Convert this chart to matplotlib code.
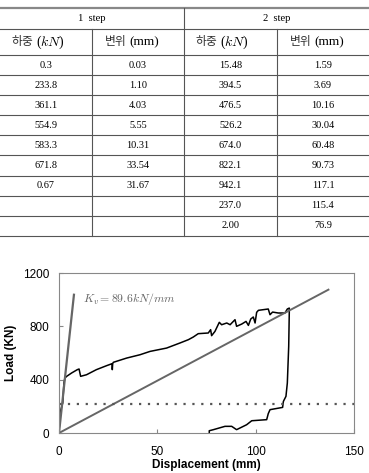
import numpy as np
import matplotlib.pyplot as plt
from matplotlib.lines import Line2D

plt.rcParams['mathtext.fontset'] = 'cm'

# table data
step_titles = ["1  step", "2  step"]
col_names = ["하중", "변위", "하중", "변위"]
col_units = ["($kN$)", "(mm)", "($kN$)", "(mm)"]
step1_load = ["0.3", "233.8", "361.1", "554.9", "583.3", "671.8", "0.67", "", ""]
step1_disp = ["0.03", "1.10", "4.03", "5.55", "10.31", "33.54", "31.67", "", ""]
step2_load = ["15.48", "394.5", "476.5", "526.2", "674.0", "822.1", "942.1", "237.0", "2.00"]
step2_disp = ["1.59", "3.69", "10.16", "30.04", "60.48", "90.73", "117.1", "115.4", "76.9"]

# load-displacement curve
disp = [0, 0.5, 1.9, 2.5, 3.0, 3.9, 6.4, 9.3, 10.2, 11.0, 14, 19, 24.2, 27, 27.1, 27.3,
        27.6, 34.4, 41.2, 46.3, 54.7, 61.5, 65.8, 68.3, 70.8, 75.9, 77.1, 77.6, 79.3,
        81.5, 82.7, 85.3, 87, 89.5, 90.3, 92.9, 95.1, 96.3, 97.5, 98.8, 99.7, 100.5,
        101.4, 106.4, 107.3, 108.6, 111.5, 114.9, 116.1, 117.1, 117.1, 116.8, 116.1,
        115.4, 114.1, 113.7, 107.3, 106.4, 105.6, 98, 95.4, 90.3, 87.8, 84.4, 78.5,
        76.4, 76.4]
load = [0, 150, 225, 375, 412, 425, 450, 475, 480, 425, 437, 475, 505, 520, 475, 520,
        530, 562, 587, 612, 637, 675, 700, 720, 745, 750, 775, 730, 762,
        830, 812, 825, 812, 850, 800, 817, 837, 807, 855, 870, 825, 905,
        920, 930, 887, 907, 900, 900, 930, 937, 912, 650, 375,
        275, 237, 192, 175, 145, 100, 92, 62, 25, 50, 50, 25,
        17, 0]

kv_line_x = [0, 7.6]
kv_line_y = [0, 1037]
secant_x = [0, 137]
secant_y = [0, 1075]
yield_load = 220

W, H = 369, 473
fig = plt.figure(figsize=(W / 100, H / 100), dpi=100)

# ---- table ----
tab = fig.add_axes([0, 0, 1, 1])
tab.set_xlim(0, W)
tab.set_ylim(H, 0)
tab.axis('off')

col_x = [0, 92, 184, 277, 369]
row_y = [8, 29, 55] + [55 + 20.1 * (i + 1) for i in range(9)]
serif = ['Liberation Serif', 'Noto Sans CJK KR']
fs = 7.4
lc = '#555555'

tab.add_line(Line2D([0, W], [row_y[0]] * 2, color='#888888', lw=1.6))
for y in row_y[1:]:
    tab.add_line(Line2D([0, W], [y, y], color=lc, lw=0.8))
tab.add_line(Line2D([col_x[2]] * 2, [row_y[0], row_y[-1]], color=lc, lw=0.8))
for x in (col_x[1], col_x[3]):
    tab.add_line(Line2D([x, x], [row_y[1], row_y[-1]], color=lc, lw=0.8))

for i, t in enumerate(step_titles):
    tab.text((col_x[2 * i] + col_x[2 * i + 2]) / 2, (row_y[0] + row_y[1]) / 2, t,
             ha='center', va='center', fontsize=fs + 0.3, family=serif)
for j in range(4):
    cx = (col_x[j] + col_x[j + 1]) / 2
    cy = (row_y[1] + row_y[2]) / 2
    off = 13 if j % 2 == 0 else 11
    tab.text(cx - off, cy, col_names[j], ha='right', va='center',
             fontsize=8.5, family='Noto Sans CJK KR', color='#333333')
    tab.text(cx - off + 2.5, cy + 0.5, col_units[j], ha='left', va='center',
             fontsize=10 if j % 2 == 0 else 9.5, family='Liberation Serif')
cols = [step1_load, step1_disp, step2_load, step2_disp]
for j, c in enumerate(cols):
    for i, v in enumerate(c):
        tab.text((col_x[j] + col_x[j + 1]) / 2, (row_y[i + 2] + row_y[i + 3]) / 2, v,
                 ha='center', va='center', fontsize=fs, family=serif)

# ---- chart ----
ax = fig.add_axes([59 / W, 1 - 433 / H, (354 - 59) / W, (433 - 273) / H])
ax.plot(disp, load, color='black', lw=1.1)
ax.plot(kv_line_x, kv_line_y, color='#666666', lw=1.6)
ax.plot(secant_x, secant_y, color='#666666', lw=1.4)
ax.axhline(yield_load, color='#555555', lw=1.6, ls=(0, (1, 3)))
ax.text(12, 1005, r'$K_v = 89.6kN/mm$', color='#666666', fontsize=8.5, va='center')

ax.set_xlim(0, 150)
ax.set_ylim(0, 1200)
ax.set_xticks([0, 50, 100, 150])
ax.set_yticks([0, 400, 800, 1200])
for s in ax.spines.values():
    s.set_color('#888888')
ax.tick_params(direction='in', length=3, color='#888888', labelsize=8.5)
ax.tick_params(axis='x', pad=9)
ax.tick_params(axis='y', pad=7)
for lab in ax.get_xticklabels() + ax.get_yticklabels():
    lab.set_family('Liberation Sans')
ax.set_xlabel('Displacement (mm)', fontsize=8.5, fontweight='bold', family='Liberation Sans', labelpad=1)
ax.set_ylabel('Load (KN)', fontsize=8.5, fontweight='bold', family='Liberation Sans', labelpad=4)

fig.savefig('out.png', dpi=100)
